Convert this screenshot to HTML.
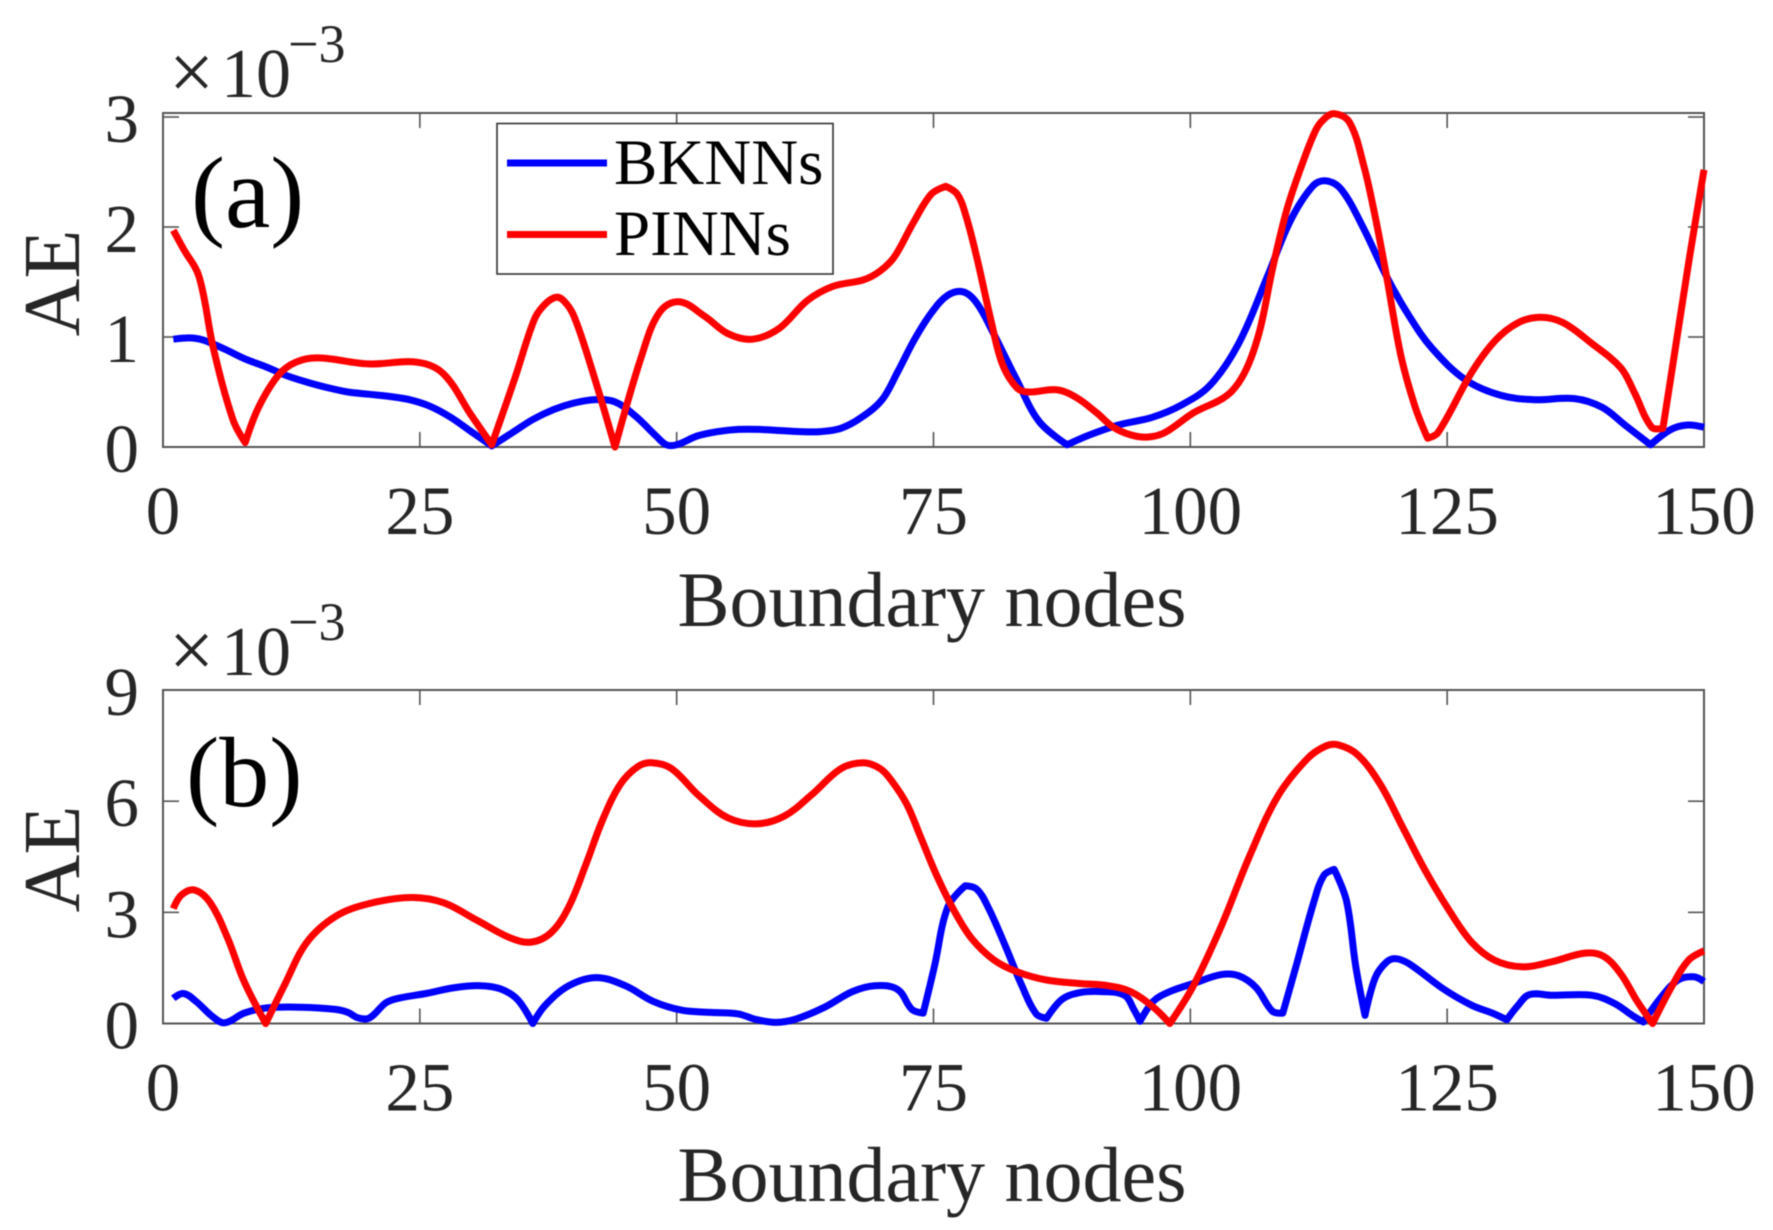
<!DOCTYPE html>
<html lang="en">
<head>
<meta charset="utf-8">
<title>AE vs Boundary nodes</title>
<style>
html,body{margin:0;padding:0;background:#fff;}
body{width:1773px;height:1230px;overflow:hidden;}
svg{display:block;filter:blur(0.5px);}
text{font-family:"Liberation Serif",serif;fill:#262626;}
</style>
</head>
<body>
<svg id="chart" xmlns="http://www.w3.org/2000/svg" width="1773" height="1230" viewBox="0 0 1773 1230">
  <rect x="0" y="0" width="1773" height="1230" fill="#fff"/>

  <g id="panel-a"></g>
  <g id="panel-b"></g>

  <g>
    <text x="191" y="227" font-size="102" style="fill:#000">(a)</text>
    <text transform="translate(79,283) rotate(-90)" text-anchor="middle" font-size="80">AE</text>
    <text x="932" y="626" text-anchor="middle" font-size="78">Boundary nodes</text>
    <text x="169" y="99" font-size="80">×</text>
    <text x="221" y="97" font-size="70">10</text>
    <text x="288" y="62" font-size="54">−3</text>
  </g>

  <g>
    <text x="186" y="806" font-size="100" style="fill:#000">(b)</text>
    <text transform="translate(79,859) rotate(-90)" text-anchor="middle" font-size="80">AE</text>
    <text x="932" y="1201" text-anchor="middle" font-size="78">Boundary nodes</text>
    <text x="169" y="677" font-size="80">×</text>
    <text x="221" y="675" font-size="70">10</text>
    <text x="288" y="640" font-size="54">−3</text>
  </g>

  <g>
    <rect x="497" y="123.5" width="336" height="150.5" fill="#fff" stroke="#333" stroke-width="1.6"/>
    <line x1="507" x2="607" y1="163" y2="163" stroke="#0000ff" stroke-width="7"/>
    <text x="614" y="184" font-size="65" style="fill:#000">BKNNs</text>
    <line x1="507" x2="607" y1="234.5" y2="234.5" stroke="#ff0000" stroke-width="7"/>
    <text x="614" y="255" font-size="65" style="fill:#000">PINNs</text>
  </g>
</svg>

<script>
var xTicks = [0, 25, 50, 75, 100, 125, 150];
var panelAYTicks = [0, 1, 2, 3];
var panelBYTicks = [0, 3, 6, 9];

var panelABknnNodes = [1,2,3,4,6,8,10,12,14,16,18,20,22,24,26,28,30,32,34,36,38,40,42,44,46,48,49,50,52,54,56,58,60,62,64,66,68,70,71.5,73.1,74.8,76.4,77.9,79.2,80.8,83.1,85.3,88,90.2,93,96.3,99.1,101.9,104.7,107.5,109.7,111.9,113.2,114.7,116.9,119.1,121.3,123.5,126.8,130.2,133.5,137.4,140.1,142.3,144.8,146.8,148.4,150];
var panelABknnValues = [0.98,0.99,0.99,0.97,0.89,0.80,0.73,0.65,0.59,0.54,0.50,0.48,0.46,0.43,0.37,0.27,0.14,0.01,0.13,0.25,0.34,0.40,0.43,0.41,0.28,0.10,0.02,0.02,0.10,0.14,0.16,0.16,0.15,0.14,0.14,0.17,0.27,0.43,0.68,0.97,1.22,1.38,1.41,1.31,1.04,0.61,0.23,0.02,0.11,0.20,0.27,0.38,0.56,0.94,1.55,2.05,2.37,2.42,2.34,1.98,1.55,1.19,0.90,0.61,0.47,0.43,0.44,0.36,0.20,0.02,0.16,0.20,0.18];

var panelAPinnNodes = [1,2,3.5,4.9,6.8,8,9.3,11.2,12.9,15.1,20,24.8,27.3,30,32,34.2,36.1,37,38.2,39,40,41.7,44,46.6,48.3,50.2,52.7,55,57.4,60,62.7,65.2,68.2,69.8,71.2,73.1,74.8,76.2,77.3,78.1,79.2,80.6,81.7,83.1,84.2,87,88.9,90.9,92.5,94.2,95.8,97.5,100.3,103.6,105.3,106.7,108,109.4,110.8,112.2,113,114,115.5,116.9,118,119.1,120.5,121.9,123.1,124.1,127.4,129.7,131.9,134.1,136.3,139.1,141.9,143.2,144.9,146,147.1,148.6,150];
var panelAPinnValues = [1.97,1.80,1.55,0.90,0.25,0.04,0.36,0.65,0.77,0.81,0.755,0.77,0.665,0.29,0.02,0.61,1.15,1.28,1.36,1.33,1.19,0.72,0.0,0.83,1.22,1.32,1.19,1.03,0.98,1.08,1.33,1.46,1.52,1.60,1.73,2.05,2.30,2.37,2.30,2.12,1.73,1.15,0.755,0.54,0.50,0.52,0.45,0.31,0.18,0.11,0.09,0.13,0.31,0.47,0.68,1.04,1.62,2.16,2.55,2.88,2.98,3.03,2.95,2.55,2.09,1.55,0.83,0.36,0.08,0.13,0.68,0.97,1.13,1.18,1.13,0.94,0.72,0.50,0.18,0.17,0.83,1.73,2.52];

var panelBBknnNodes = [1,2,3.2,4.9,6,7.9,10.1,13.4,16.8,18,19,20.1,21.7,22.9,25.6,28.4,30.9,32.8,34.5,36,37.2,39.5,42.2,45,47.7,50.5,53.3,56,57.7,59.7,61.6,64.4,67.1,69.3,71.5,72.9,74,75.1,76.4,78.1,79.2,80.3,82,83.6,85,86,87.5,89.2,91.4,93.6,94.5,95.1,96.4,98,100.3,103,104.7,106.4,108,109,110.3,112,113,114,115.2,116.1,117,118,119.1,120,121.3,124.7,127.4,129.4,130.8,131.9,133,135.2,139.1,141.3,143,144.1,145.8,147.5,149,150];
var panelBBknnValues = [0.68,0.81,0.60,0.17,0.02,0.28,0.42,0.44,0.38,0.30,0.15,0.15,0.56,0.68,0.81,0.97,1.02,0.94,0.65,0.0,0.49,1.02,1.24,1.02,0.60,0.36,0.30,0.26,0.11,0.03,0.12,0.44,0.86,1.02,0.92,0.38,0.28,1.55,3.15,3.72,3.63,3.15,2.09,1.02,0.26,0.14,0.65,0.83,0.86,0.76,0.38,0.06,0.60,0.86,1.08,1.32,1.29,0.97,0.33,0.28,1.55,3.26,4.00,4.16,3.31,1.55,0.22,1.24,1.66,1.75,1.61,0.92,0.49,0.28,0.10,0.49,0.78,0.76,0.76,0.54,0.22,0.04,0.70,1.18,1.26,1.13];

var panelBPinnNodes = [1,1.8,3.1,4.6,6.3,7.9,10,11.8,14,16.8,20.1,24.2,27.3,30.6,33.9,35.9,37.8,39.5,41.2,42.8,44.5,46.2,47.6,49.5,52.2,55,57.8,60.5,63.2,66,68.2,69.8,70.9,72.4,73.7,75.3,77,78.7,80.9,83.1,85.9,89.2,92,94.2,96.4,98,100.3,103,105.8,108.5,111.4,113.2,114.4,116.3,118.5,120.7,122.9,125.2,127.4,129.6,132.3,135.1,138.4,140.2,141.9,143.5,145,146.9,148.5,150];
var panelBPinnValues = [3.10,3.47,3.60,3.26,2.30,1.13,0.0,1.02,2.19,2.89,3.24,3.40,3.26,2.78,2.30,2.20,2.46,3.15,4.32,5.50,6.45,6.93,7.04,6.88,6.14,5.55,5.39,5.60,6.19,6.88,7.04,6.88,6.56,5.92,5.07,4.00,3.05,2.30,1.71,1.40,1.18,1.08,1.02,0.86,0.44,0.0,1.02,2.62,4.54,6.13,7.15,7.49,7.52,7.25,6.45,5.28,4.11,3.05,2.19,1.71,1.53,1.66,1.90,1.82,1.34,0.60,0.0,1.02,1.71,1.96];

var SVG_NS = 'http://www.w3.org/2000/svg';
var plotLeft = 163;
var plotRight = 1704;
var cornerAngle = 60 * Math.PI / 180;

function xScale(v) {
  return plotLeft + v * (plotRight - plotLeft) / 150;
}
function yScaleA(v) {
  return 447 - v * 110;
}
function yScaleB(v) {
  return 1023.5 - v * 37.05;
}

/* Smooth curve through the read points; sharp turns stay as corners. */
function smoothPath(pts) {
  var dirs = pts.map(function (p, i) {
    if (i === 0 || i === pts.length - 1) { return null; }
    var a = pts[i - 1], b = pts[i + 1];
    var a1 = Math.atan2(p[1] - a[1], p[0] - a[0]);
    var a2 = Math.atan2(b[1] - p[1], b[0] - p[0]);
    var turn = Math.abs(a2 - a1);
    if (turn > Math.PI) { turn = 2 * Math.PI - turn; }
    if (turn > cornerAngle) { return null; }
    var dx = b[0] - a[0], dy = b[1] - a[1];
    var len = Math.sqrt(dx * dx + dy * dy) || 1;
    return [dx / len, dy / len];
  });
  var d = 'M' + pts[0][0].toFixed(1) + ' ' + pts[0][1].toFixed(1);
  for (var i = 0; i < pts.length - 1; i++) {
    var p = pts[i], q = pts[i + 1];
    var sx = q[0] - p[0], sy = q[1] - p[1];
    var h = Math.sqrt(sx * sx + sy * sy) * 0.35;
    var c1 = dirs[i] ? [p[0] + dirs[i][0] * h, p[1] + dirs[i][1] * h] : [p[0], p[1]];
    var c2 = dirs[i + 1] ? [q[0] - dirs[i + 1][0] * h, q[1] - dirs[i + 1][1] * h] : [q[0], q[1]];
    d += 'C' + c1[0].toFixed(1) + ' ' + c1[1].toFixed(1) + ' ' + c2[0].toFixed(1) + ' ' + c2[1].toFixed(1) + ' ' + q[0].toFixed(1) + ' ' + q[1].toFixed(1);
  }
  return d;
}

function drawPanel(groupId, prefix, top, bottom, yScale, yTicks, series) {
  var g = document.getElementById(groupId);

  xTicks.forEach(function (t) {
    var px = xScale(t);

    var topTick = document.createElementNS(SVG_NS, 'line');
    
    
    topTick.setAttribute('x1', px);
    topTick.setAttribute('x2', px);
    topTick.setAttribute('y1', top);
    topTick.setAttribute('y2', top + 15);
    topTick.setAttribute('stroke', '#555');
    topTick.setAttribute('stroke-width', '1.6');
    g.appendChild(topTick);

    var bottomTick = document.createElementNS(SVG_NS, 'line');
    
    
    bottomTick.setAttribute('x1', px);
    bottomTick.setAttribute('x2', px);
    bottomTick.setAttribute('y1', bottom);
    bottomTick.setAttribute('y2', bottom - 15);
    bottomTick.setAttribute('stroke', '#555');
    bottomTick.setAttribute('stroke-width', '1.6');
    g.appendChild(bottomTick);

    var label = document.createElementNS(SVG_NS, 'text');
    
    
    label.setAttribute('x', px);
    label.setAttribute('y', bottom + 87);
    label.setAttribute('text-anchor', 'middle');
    label.setAttribute('font-size', '69');
    label.textContent = String(t);
    g.appendChild(label);
  });

  yTicks.forEach(function (t) {
    var py = yScale(t);

    var leftTick = document.createElementNS(SVG_NS, 'line');
    
    
    leftTick.setAttribute('x1', plotLeft);
    leftTick.setAttribute('x2', plotLeft + 16);
    leftTick.setAttribute('y1', py);
    leftTick.setAttribute('y2', py);
    leftTick.setAttribute('stroke', '#555');
    leftTick.setAttribute('stroke-width', '1.6');
    g.appendChild(leftTick);

    var rightTick = document.createElementNS(SVG_NS, 'line');
    
    
    rightTick.setAttribute('x1', plotRight);
    rightTick.setAttribute('x2', plotRight - 16);
    rightTick.setAttribute('y1', py);
    rightTick.setAttribute('y2', py);
    rightTick.setAttribute('stroke', '#555');
    rightTick.setAttribute('stroke-width', '1.6');
    g.appendChild(rightTick);

    var label = document.createElementNS(SVG_NS, 'text');
    
    
    label.setAttribute('x', 139);
    label.setAttribute('y', py + 25);
    label.setAttribute('text-anchor', 'end');
    label.setAttribute('font-size', '69');
    label.textContent = String(t);
    g.appendChild(label);
  });

  var frame = document.createElementNS(SVG_NS, 'rect');
  
  
  frame.setAttribute('x', plotLeft);
  frame.setAttribute('y', top);
  frame.setAttribute('width', plotRight - plotLeft);
  frame.setAttribute('height', bottom - top);
  frame.setAttribute('fill', 'none');
  frame.setAttribute('stroke', '#555');
  frame.setAttribute('stroke-width', '2');
  g.appendChild(frame);

  series.forEach(function (s) {
    var pts = s.nodes.map(function (n, i) {
      return [xScale(n), yScale(s.values[i])];
    });
    var line = document.createElementNS(SVG_NS, 'path');
    
    
    line.setAttribute('d', smoothPath(pts));
    line.setAttribute('fill', 'none');
    line.setAttribute('stroke', s.color);
    line.setAttribute('stroke-width', '7');
    line.setAttribute('stroke-linejoin', 'round');
    line.setAttribute('stroke-linecap', 'butt');
    g.appendChild(line);
  });
}

drawPanel('panel-a', 'panel-a', 113, 447, yScaleA, panelAYTicks, [
  { name: 'bknns', color: '#0000ff', nodes: panelABknnNodes, values: panelABknnValues },
  { name: 'pinns', color: '#ff0000', nodes: panelAPinnNodes, values: panelAPinnValues }
]);
drawPanel('panel-b', 'panel-b', 690, 1023.5, yScaleB, panelBYTicks, [
  { name: 'bknns', color: '#0000ff', nodes: panelBBknnNodes, values: panelBBknnValues },
  { name: 'pinns', color: '#ff0000', nodes: panelBPinnNodes, values: panelBPinnValues }
]);
</script>
</body>
</html>
